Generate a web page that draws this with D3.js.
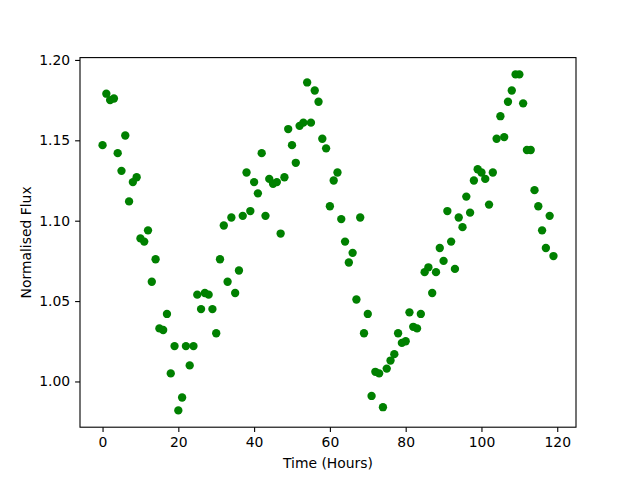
<!DOCTYPE html>
<html>
<head>
<meta charset="utf-8">
<script src="https://cdn.jsdelivr.net/npm/d3@7"></script>
<style>
  body { margin: 0; background: #fff; }
  text { font-family: "DejaVu Sans", sans-serif; }
</style>
</head>
<body>
<div id="chart"></div>
<script>
// Chart size and margins (matplotlib default axes box)
const WIDTH = 640;
const HEIGHT = 480;
const MARGIN = { top: 57.6, right: 64, bottom: 52.8, left: 80 };

// Data
const hours = d3.range(0, 120);
const flux = [
  1.147, 1.179, 1.175, 1.176, 1.142, 1.131, 1.153, 1.112, 1.124, 1.127,
  1.089, 1.087, 1.094, 1.062, 1.076, 1.033, 1.032, 1.042, 1.005, 1.022,
  0.982, 0.990, 1.022, 1.010, 1.022, 1.054, 1.045, 1.055, 1.054, 1.045,
  1.030, 1.076, 1.097, 1.062, 1.102, 1.055, 1.069, 1.103, 1.130, 1.106,
  1.124, 1.117, 1.142, 1.103, 1.126, 1.123, 1.124, 1.092, 1.127, 1.157,
  1.147, 1.136, 1.159, 1.161, 1.186, 1.161, 1.181, 1.174, 1.151, 1.145,
  1.109, 1.125, 1.130, 1.101, 1.087, 1.074, 1.080, 1.051, 1.102, 1.030,
  1.042, 0.991, 1.006, 1.005, 0.984, 1.008, 1.013, 1.017, 1.030, 1.024,
  1.025, 1.043, 1.034, 1.033, 1.042, 1.068, 1.071, 1.055, 1.068, 1.083,
  1.075, 1.106, 1.087, 1.070, 1.102, 1.096, 1.115, 1.105, 1.125, 1.132,
  1.130, 1.126, 1.110, 1.130, 1.151, 1.165, 1.152, 1.174, 1.181, 1.191,
  1.191, 1.173, 1.144, 1.144, 1.119, 1.109, 1.094, 1.083, 1.103, 1.078
];
const xTicks = [0, 20, 40, 60, 80, 100, 120];
const yTicks = [1.00, 1.05, 1.10, 1.15, 1.20];

// matplotlib style 5% padding
function padded(extent) {
  const pad = (extent[1] - extent[0]) * 0.05;
  return [extent[0] - pad, extent[1] + pad];
}

const svg = d3.select("#chart")
  .append("svg")
  .attr("width", WIDTH)
  .attr("height", HEIGHT);

const innerW = WIDTH - MARGIN.left - MARGIN.right;
const innerH = HEIGHT - MARGIN.top - MARGIN.bottom;

const x = d3.scaleLinear()
  .domain(padded(d3.extent(hours)))
  .range([MARGIN.left, MARGIN.left + innerW]);

const y = d3.scaleLinear()
  .domain(padded(d3.extent(flux)))
  .range([MARGIN.top + innerH, MARGIN.top]);

// Points
svg.append("g")
  .selectAll("circle")
  .data(hours)
  .enter()
  .append("circle")
  .attr("cx", d => x(d))
  .attr("cy", (d, i) => y(flux[i]))
  .attr("r", 4.17)
  .attr("fill", "#008000");

// Axes
const xAxis = svg.append("g")
  .attr("transform", `translate(0, ${MARGIN.top + innerH})`)
  .call(d3.axisBottom(x).tickValues(xTicks).tickSize(4.9).tickPadding(4.9).tickFormat(d3.format("d")));

const yAxis = svg.append("g")
  .attr("transform", `translate(${MARGIN.left}, 0)`)
  .call(d3.axisLeft(y).tickValues(yTicks).tickSize(4.9).tickPadding(4.9).tickFormat(d3.format(".2f")));

[xAxis, yAxis].forEach(g => {
  g.select(".domain").remove();
  g.selectAll(".tick line").attr("stroke", "#000").attr("stroke-width", 1.1);
  g.selectAll(".tick text")
    .attr("fill", "#000")
    .style("font-size", "13.9px")
    .style("font-family", "'DejaVu Sans', sans-serif");
});

// Frame
svg.append("rect")
  .attr("x", MARGIN.left)
  .attr("y", MARGIN.top)
  .attr("width", innerW)
  .attr("height", innerH)
  .attr("fill", "none")
  .attr("stroke", "#000")
  .attr("stroke-width", 1.1);

// Axis labels
svg.append("text")
  .attr("x", MARGIN.left + innerW / 2)
  .attr("y", 468)
  .attr("text-anchor", "middle")
  .style("font-size", "13.9px")
  .text("Time (Hours)");

svg.append("text")
  .attr("transform", `translate(31, ${MARGIN.top + innerH / 2}) rotate(-90)`)
  .attr("text-anchor", "middle")
  .style("font-size", "13.9px")
  .text("Normalised Flux");
</script>
</body>
</html>
